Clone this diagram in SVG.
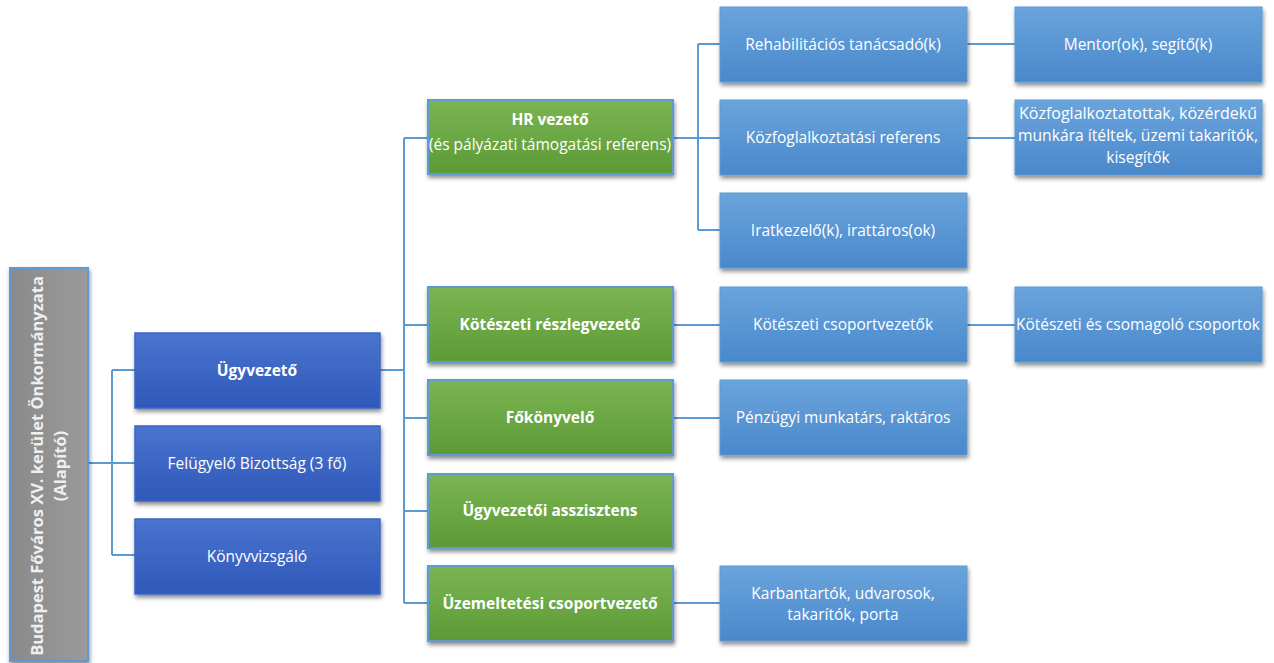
<svg xmlns="http://www.w3.org/2000/svg" width="1274" height="663" viewBox="0 0 1274 663">
<defs>
<linearGradient id="gDark" x1="0" y1="0" x2="0" y2="1"><stop offset="0" stop-color="#4a74d0"/><stop offset="1" stop-color="#2f58b8"/></linearGradient>
<linearGradient id="gGreen" x1="0" y1="0" x2="0" y2="1"><stop offset="0" stop-color="#7bb552"/><stop offset="1" stop-color="#5c9a36"/></linearGradient>
<linearGradient id="gLight" x1="0" y1="0" x2="0" y2="1"><stop offset="0" stop-color="#6aa4dc"/><stop offset="1" stop-color="#4a88cc"/></linearGradient>
<linearGradient id="gGray" x1="0" y1="0" x2="1" y2="0"><stop offset="0" stop-color="#8a8a8a"/><stop offset="1" stop-color="#9a9a9a"/></linearGradient>
<filter id="sh" x="-10%" y="-10%" width="120%" height="130%"><feDropShadow dx="1" dy="3" stdDeviation="2" flood-color="#000" flood-opacity="0.45"/></filter>
</defs>
<style>
.dark{fill:url(#gDark);stroke:#3b66c4;stroke-width:1.5;filter:url(#sh)}
.green{fill:url(#gGreen);stroke:#5b9bd5;stroke-width:2;filter:url(#sh)}
.light{fill:url(#gLight);stroke:#5b9bd5;stroke-width:1;filter:url(#sh)}
.gray{fill:url(#gGray);stroke:#5b9bd5;stroke-width:2;filter:url(#sh)}
text{font-family:"Open Sans","Noto Sans",sans-serif;fill:#fff;text-anchor:middle;font-size:15.5px}
.b{font-weight:bold}
.conn{fill:none;stroke:#5b9bd5;stroke-width:2}
</style>
<g id="connectors" class="conn">
<path d="M88 463 H112 M112 370 V555 M112 370 H135 M112 463 H135 M112 555 H135"/>
<path d="M380 370 H404 M404 138 V603 M404 138 H428 M404 325 H428 M404 418 H428 M404 511 H428 M404 603 H428"/>
<path d="M673 138 H698 M698 44 V230 M698 44 H720 M698 138 H720 M698 230 H720"/>
<path d="M673 325 H720 M673 418 H720 M673 603 H720"/>
<path d="M967 44 H1015 M967 138 H1015 M967 325 H1015"/>
</g>
<g id="n-root"><rect class="gray" x="10" y="268" width="78" height="393"/>
<text class="b" transform="translate(43 466) rotate(-90)" style="fill:#efefef;font-size:16.5px">Budapest Főváros XV. kerület Önkormányzata</text>
<text class="b" transform="translate(66 466) rotate(-90)" style="fill:#efefef;font-size:16.5px">(Alapító)</text></g>
<g id="n-ugyvezeto"><rect class="dark" x="135" y="333" width="245" height="75"/><text class="b" x="257" y="376">Ügyvezető</text></g>
<g id="n-felugyelo"><rect class="dark" x="135" y="426" width="245" height="75"/><text x="257" y="469">Felügyelő Bizottság (3 fő)</text></g>
<g id="n-konyvvizsgalo"><rect class="dark" x="135" y="519" width="245" height="75"/><text x="257" y="562">Könyvvizsgáló</text></g>
<g id="n-hr"><rect class="green" x="428" y="100" width="245" height="74"/><text class="b" x="550" y="125">HR vezető</text><text x="550" y="150">(és pályázati támogatási referens)</text></g>
<g id="n-koteszeti-r"><rect class="green" x="428" y="287" width="245" height="75"/><text class="b" x="550" y="330">Kötészeti részlegvezető</text></g>
<g id="n-fokonyvelo"><rect class="green" x="428" y="380" width="245" height="75"/><text class="b" x="550" y="423">Főkönyvelő</text></g>
<g id="n-asszisztens"><rect class="green" x="428" y="474" width="245" height="74"/><text class="b" x="550" y="516">Ügyvezetői asszisztens</text></g>
<g id="n-uzemeltetesi"><rect class="green" x="428" y="566" width="245" height="75"/><text class="b" x="550" y="609">Üzemeltetési csoportvezető</text></g>
<g id="n-rehab"><rect class="light" x="720" y="7" width="247" height="75"/><text x="843" y="50">Rehabilitációs tanácsadó(k)</text></g>
<g id="n-kozfog-ref"><rect class="light" x="720" y="100" width="247" height="75"/><text x="843" y="143">Közfoglalkoztatási referens</text></g>
<g id="n-iratkezelo"><rect class="light" x="720" y="193" width="247" height="75"/><text x="843" y="236">Iratkezelő(k), irattáros(ok)</text></g>
<g id="n-kot-csop"><rect class="light" x="720" y="287" width="247" height="75"/><text x="843" y="330">Kötészeti csoportvezetők</text></g>
<g id="n-penzugyi"><rect class="light" x="720" y="380" width="247" height="75"/><text x="843" y="423">Pénzügyi munkatárs, raktáros</text></g>
<g id="n-karbantartok"><rect class="light" x="720" y="566" width="247" height="75"/><text x="843" y="599">Karbantartók, udvarosok,</text><text x="843" y="620">takarítók, porta</text></g>
<g id="n-mentor"><rect class="light" x="1015" y="7" width="247" height="75"/><text x="1138" y="50">Mentor(ok), segítő(k)</text></g>
<g id="n-kozfog"><rect class="light" x="1015" y="100" width="247" height="75"/><text x="1138" y="119" textLength="238" lengthAdjust="spacingAndGlyphs">Közfoglalkoztatottak, közérdekű</text><text x="1138" y="141" textLength="240" lengthAdjust="spacingAndGlyphs">munkára ítéltek, üzemi takarítók,</text><text x="1138" y="163">kisegítők</text></g>
<g id="n-kot-csom"><rect class="light" x="1015" y="287" width="247" height="75"/><text x="1138" y="330" textLength="244" lengthAdjust="spacingAndGlyphs">Kötészeti és csomagoló csoportok</text></g>
</svg>
